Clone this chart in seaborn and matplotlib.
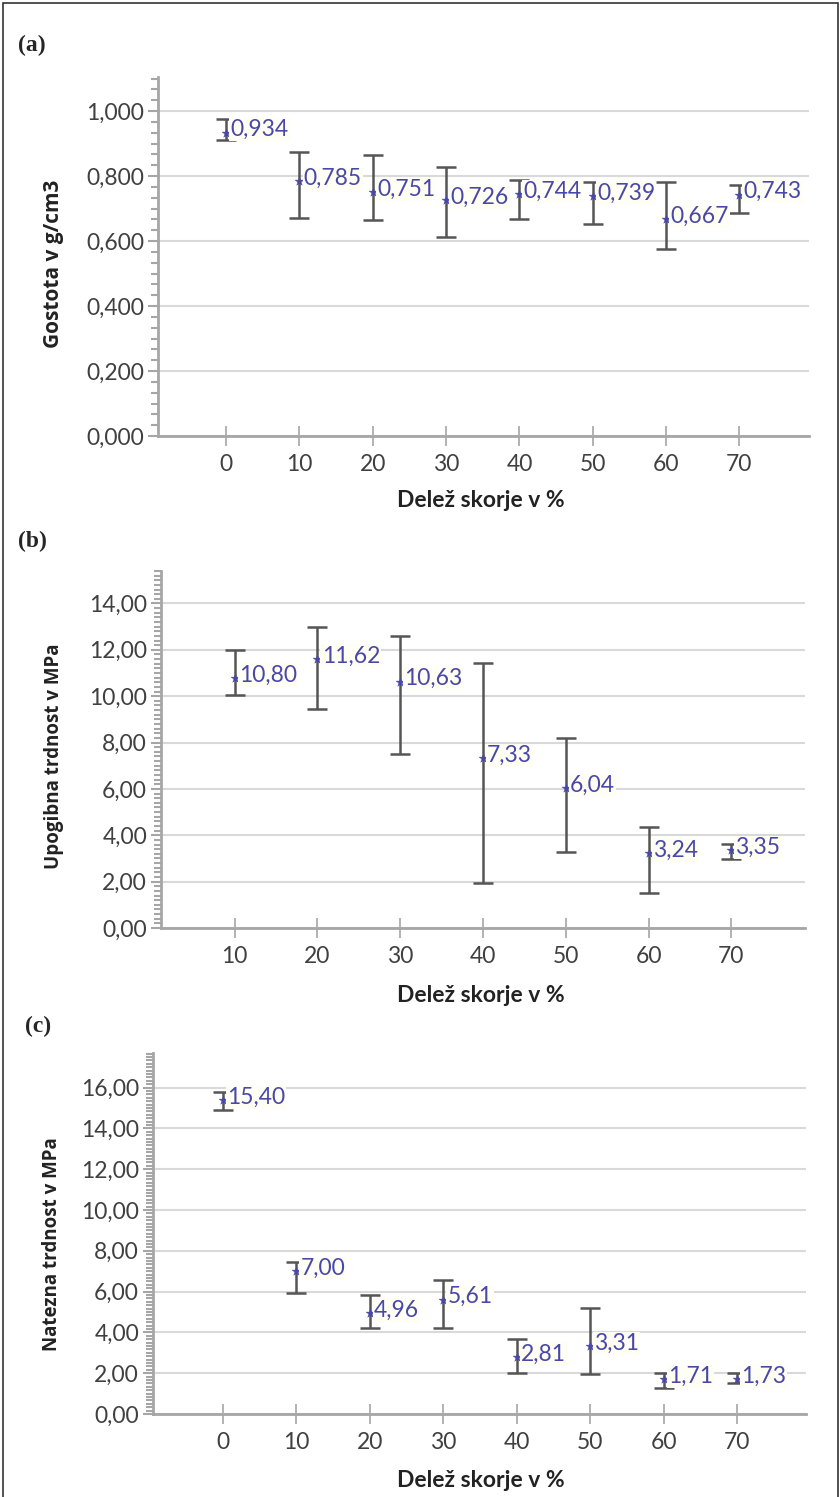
import numpy as np
import matplotlib
matplotlib.use("Agg")
import matplotlib.pyplot as plt
import matplotlib.ticker as mticker
from matplotlib.patches import Rectangle
import seaborn as sns

# ── Podatki ───────────────────────────────────────────────────────────────
# (a) gostota
share_a = [0, 10, 20, 30, 40, 50, 60, 70]
dens_mean = [0.934, 0.785, 0.751, 0.726, 0.744, 0.739, 0.667, 0.743]
dens_low = [0.911, 0.670, 0.664, 0.614, 0.668, 0.653, 0.576, 0.686]
dens_high = [0.975, 0.873, 0.865, 0.829, 0.787, 0.781, 0.781, 0.773]
dens_labels = ["0,934", "0,785", "0,751", "0,726", "0,744", "0,739", "0,667", "0,743"]

# (b) upogibna trdnost
share_b = [10, 20, 30, 40, 50, 60, 70]
bend_mean = [10.80, 11.62, 10.63, 7.33, 6.04, 3.24, 3.35]
bend_low = [10.04, 9.45, 7.49, 1.93, 3.28, 1.51, 2.99]
bend_high = [11.98, 12.99, 12.59, 11.41, 8.19, 4.37, 3.64]
bend_labels = ["10,80", "11,62", "10,63", "7,33", "6,04", "3,24", "3,35"]

# (c) natezna trdnost
share_c = [0, 10, 20, 30, 40, 50, 60, 70]
tens_mean = [15.40, 7.00, 4.96, 5.61, 2.81, 3.31, 1.71, 1.73]
tens_low = [14.89, 5.95, 4.21, 4.24, 2.01, 1.95, 1.28, 1.52]
tens_high = [15.80, 7.47, 5.83, 6.55, 3.68, 5.21, 2.01, 2.01]
tens_labels = ["15,40", "7,00", "4,96", "5,61", "2,81", "3,31", "1,71", "1,73"]

XLABEL = "Delež skorje v %"
BLUE = "#4848a8"
BAR = "#555555"
AXIS = "#a6a6a6"
GRID = "#d9d9d9"
TICK_TXT = "#404040"

sns.set_style("white")
plt.rcParams["font.family"] = ["Lato", "DejaVu Sans"]

W, H = 840, 1497
fig = plt.figure(figsize=(W / 100, H / 100), dpi=100)


def panel(rect, x, mean, low, high, labels, ylabel, ylsize, ylim, xlim, major, minor_n, dec,
          yl_pos, xl_pos, tag, tag_pos):
    ax = fig.add_axes(rect)
    mean = np.asarray(mean)
    yerr = [mean - np.asarray(low), np.asarray(high) - mean]
    ax.errorbar(x, mean, yerr=yerr, fmt="none", ecolor=BAR, elinewidth=1.8,
                capsize=7, capthick=1.8, zorder=3)
    sns.scatterplot(x=x, y=mean, marker="*", s=45, color=BLUE, edgecolor=BLUE,
                    linewidth=0.3, ax=ax, zorder=4)
    for xi, yi, lab in zip(x, mean, labels):
        ax.annotate(lab, (xi, yi), xytext=(3, 2), textcoords="offset points",
                    ha="left", va="center", color=BLUE, fontsize=16.5, zorder=5,
                    bbox=dict(boxstyle="square,pad=0.05", fc="#fffef4", ec="none"))

    ax.set_xlim(*xlim)
    ax.set_ylim(*ylim)
    ax.set_xticks(x)
    ax.yaxis.set_major_locator(mticker.MultipleLocator(major))
    ax.yaxis.set_minor_locator(mticker.AutoMinorLocator(minor_n))
    ax.yaxis.set_major_formatter(
        mticker.FuncFormatter(lambda v, p: f"{v:.{dec}f}".replace(".", ",")))

    ax.grid(axis="y", color=GRID, lw=1.5)
    ax.set_axisbelow(True)
    for s in ["top", "right"]:
        ax.spines[s].set_visible(False)
    for s in ["left", "bottom"]:
        ax.spines[s].set_color(AXIS)
        ax.spines[s].set_linewidth(2)

    ax.tick_params(axis="y", which="major", length=7, width=1.5, color=AXIS,
                   labelsize=16.5, labelcolor=TICK_TXT, pad=3, left=True)
    ax.tick_params(axis="y", which="minor", length=5, width=1.5, color=AXIS, left=True)
    ax.tick_params(axis="x", which="major", direction="inout", length=14, width=1.2,
                   color=AXIS, labelsize=16.5, labelcolor=TICK_TXT, pad=6, bottom=True)

    ax.set_ylabel(ylabel, fontsize=ylsize, fontweight="bold",
                  family=["Open Sans", "DejaVu Sans"], color="#222222")
    ax.yaxis.set_label_coords(*yl_pos)
    ax.yaxis.label.set_va("center")
    ax.set_xlabel(XLABEL, fontsize=16.5, fontweight="bold", color="#222222")
    ax.xaxis.set_label_coords(*xl_pos)
    ax.xaxis.label.set_va("center")

    fig.text(tag_pos[0], tag_pos[1], tag, fontsize=17, fontweight="bold",
             family=["Liberation Serif", "DejaVu Serif"], ha="left", va="center")
    return ax


panel([158 / W, 1 - 436 / H, 651 / W, 359 / H], share_a, dens_mean, dens_low, dens_high,
      dens_labels, "Gostota v g/cm3", 15, (0, 1.105), (-9.3, 79.5), 0.2, 6, 3,
      (-0.16, 0.48), (0.496, -0.181), "(a)", (18 / W, 1 - 45 / H))

panel([161 / W, 1 - 928 / H, 644 / W, 357 / H], share_b, bend_mean, bend_low, bend_high,
      bend_labels, "Upogibna trdnost v MPa", 13.5, (0, 15.4), (1.1, 78.9), 2, 10, 2,
      (-0.166, 0.48), (0.497, -0.19), "(b)", (18 / W, 1 - 541 / H))

panel([153 / W, 1 - 1414 / H, 653 / W, 361 / H], share_c, tens_mean, tens_low, tens_high,
      tens_labels, "Natezna trdnost v MPa", 13.5, (0, 17.7), (-9.5, 79.4), 2, 12, 2,
      (-0.155, 0.47), (0.502, -0.183), "(c)", (25 / W, 1 - 1026 / H))

# okvir okoli slike
fig.patches.append(Rectangle((3 / W, -0.01), 835 / W, 1 - 3 / H + 0.01,
                             transform=fig.transFigure, fill=False, ec="#333333", lw=1.2))

fig.savefig("out.png", dpi=100)
